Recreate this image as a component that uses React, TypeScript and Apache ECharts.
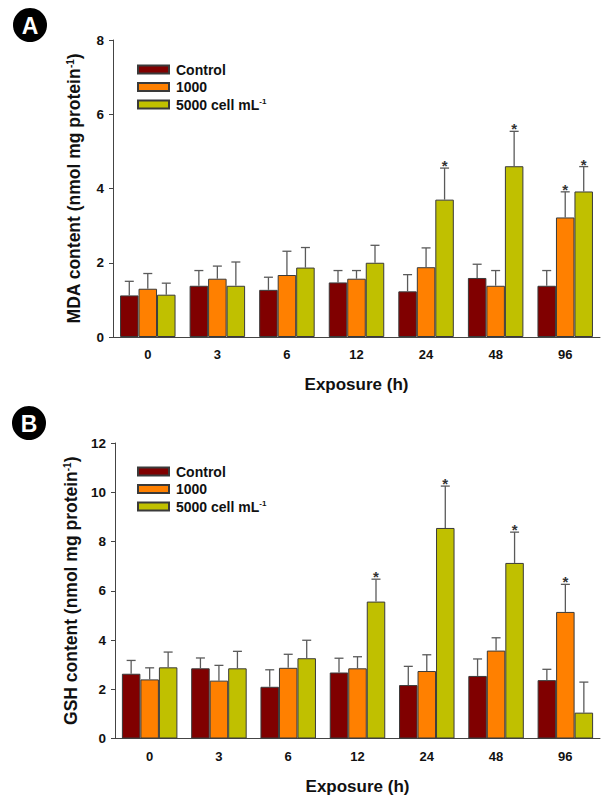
import React, { useEffect, useRef } from "react";
import * as echarts from "echarts";

const categories = ["0", "3", "6", "12", "24", "48", "96"];
const seriesNames = ["Control", "1000", "5000 cell mL-1"];
const colors = ["#800000", "#FF8000", "#C0C000"];

// Panel A: MDA content
const mdaControl = [1.12, 1.38, 1.27, 1.47, 1.23, 1.59, 1.38];
const mdaControlSd = [0.38, 0.41, 0.34, 0.32, 0.45, 0.37, 0.41];
const mda1000 = [1.3, 1.57, 1.67, 1.57, 1.88, 1.38, 3.22];
const mda1000Sd = [0.41, 0.34, 0.64, 0.22, 0.52, 0.41, 0.69];
const mda5000 = [1.14, 1.38, 1.87, 2.0, 3.7, 4.6, 3.92];
const mda5000Sd = [0.31, 0.64, 0.54, 0.47, 0.85, 0.94, 0.67];
const mdaStarsControl = [0, 0, 0, 0, 0, 0, 0];
const mdaStars1000 = [0, 0, 0, 0, 0, 0, 1];
const mdaStars5000 = [0, 0, 0, 0, 1, 1, 1];

// Panel B: GSH content
const gshControl = [2.63, 2.85, 2.1, 2.68, 2.17, 2.54, 2.37];
const gshControlSd = [0.54, 0.42, 0.69, 0.58, 0.76, 0.69, 0.44];
const gsh1000 = [2.4, 2.35, 2.87, 2.85, 2.74, 3.57, 5.14];
const gsh1000Sd = [0.47, 0.62, 0.55, 0.47, 0.66, 0.52, 1.12];
const gsh5000 = [2.89, 2.85, 3.26, 5.56, 8.55, 7.13, 1.05];
const gsh5000Sd = [0.62, 0.69, 0.73, 0.91, 1.7, 1.25, 1.24];
const gshStarsControl = [0, 0, 0, 0, 0, 0, 0];
const gshStars1000 = [0, 0, 0, 0, 0, 0, 1];
const gshStars5000 = [0, 0, 0, 1, 1, 1, 0];

const yTicksA = { min: 0, max: 8, interval: 2 };
const yTicksB = { min: 0, max: 12, interval: 2 };

const FONT = "'Liberation Sans', Arial, Helvetica, sans-serif";
const BAR_W = 18.5;

export default function App() {
  const ref = useRef<HTMLDivElement>(null);

  useEffect(() => {
    if (!ref.current) return;
    const chart = echarts.init(ref.current, undefined, { renderer: "svg" });

    const panels = [
      {
        means: [mdaControl, mda1000, mda5000],
        sds: [mdaControlSd, mda1000Sd, mda5000Sd],
        stars: [mdaStarsControl, mdaStars1000, mdaStars5000],
      },
      {
        means: [gshControl, gsh1000, gsh5000],
        sds: [gshControlSd, gsh1000Sd, gsh5000Sd],
        stars: [gshStarsControl, gshStars1000, gshStars5000],
      },
    ];

    const series: any[] = [];
    panels.forEach((p, gi) => {
      p.means.forEach((m, si) => {
        series.push({
          type: "bar",
          name: seriesNames[si],
          xAxisIndex: gi,
          yAxisIndex: gi,
          data: m,
          barWidth: BAR_W,
          barGap: "0%",
          itemStyle: { color: colors[si], borderColor: "#3a3a3a", borderWidth: 1 },
          z: 2,
        });
      });
    });
    panels.forEach((p, gi) => {
      p.means.forEach((m, si) => {
        const offset = (si - 1) * BAR_W;
        series.push({
          type: "custom",
          name: seriesNames[si],
          xAxisIndex: gi,
          yAxisIndex: gi,
          z: 5,
          encode: { x: 0, y: [1, 2] },
          data: m.map((v, i) => [i, v, v + p.sds[si][i], p.stars[si][i]]),
          renderItem: (params: any, api: any) => {
            const idx = api.value(0);
            const mean = api.value(1);
            const top = api.value(2);
            const star = api.value(3);
            const b = api.coord([idx, mean]);
            const t = api.coord([idx, top]);
            const x = b[0] + offset;
            const children: any[] = [
              {
                type: "line",
                shape: { x1: x, y1: b[1], x2: x, y2: t[1] },
                style: { stroke: "#5a5a5a", lineWidth: 1.3 },
              },
              {
                type: "line",
                shape: { x1: x - 4.5, y1: t[1], x2: x + 4.5, y2: t[1] },
                style: { stroke: "#5a5a5a", lineWidth: 1.3 },
              },
            ];
            if (star) {
              children.push({
                type: "text",
                x: x,
                y: t[1] - 10,
                style: {
                  text: "*",
                  align: "center",
                  verticalAlign: "top",
                  fontSize: 15,
                  fontWeight: "bold",
                  fontFamily: FONT,
                  fill: "#333",
                },
              });
            }
            return { type: "group", children };
          },
        });
      });
    });

    const legendBase = (top: number) => ({
      orient: "vertical",
      left: 132,
      top,
      itemWidth: 31,
      itemHeight: 8,
      itemGap: 2.5,
      icon: "rect",
      data: seriesNames,
      formatter: (n: string) => (n === "5000 cell mL-1" ? "5000 cell mL{sup|-1}" : n),
      textStyle: {
        fontFamily: FONT,
        fontWeight: "bold",
        fontSize: 14,
        color: "#111",
        lineHeight: 15,
        padding: [0, 0, 0, 2],
        rich: {
          sup: { fontFamily: FONT, fontWeight: "bold", fontSize: 8, verticalAlign: "top", lineHeight: 15, padding: [0, 0, 6, 0] },
        },
      },
    });

    const xAxisBase = (gi: number) => ({
      type: "category",
      gridIndex: gi,
      data: categories,
      boundaryGap: true,
      name: "Exposure (h)",
      nameLocation: "middle",
      nameGap: 39,
      nameTextStyle: { fontFamily: FONT, fontWeight: "bold", fontSize: 17, color: "#111" },
      axisLine: { lineStyle: { color: "#444", width: 1 } },
      axisTick: { alignWithLabel: true, length: 4, lineStyle: { color: "#444" } },
      axisLabel: { fontFamily: FONT, fontWeight: "bold", fontSize: 13, color: "#111", margin: 11 },
      splitLine: { show: false },
    });

    const yAxisBase = (gi: number, ticks: any, title: string) => ({
      type: "value",
      gridIndex: gi,
      min: ticks.min,
      max: ticks.max,
      interval: ticks.interval,
      name: title,
      nameLocation: "middle",
      nameGap: 30,
      nameTextStyle: {
        fontFamily: FONT,
        fontWeight: "bold",
        fontSize: 17.5,
        color: "#111",
        rich: {
          sup: { fontFamily: FONT, fontWeight: "bold", fontSize: 10, verticalAlign: "top", padding: [0, 0, 8, 0] },
        },
      },
      axisLine: { show: true, lineStyle: { color: "#444", width: 1 } },
      axisTick: { show: true, length: 4, lineStyle: { color: "#444" } },
      axisLabel: { fontFamily: FONT, fontWeight: "bold", fontSize: 13.5, color: "#111", margin: 9 },
      splitLine: { show: false },
    });

    const badge = (cx: number, cy: number, letter: string) => ({
      type: "group",
      children: [
        { type: "circle", shape: { cx, cy, r: 17 }, style: { fill: "#000" } },
        {
          type: "text",
          x: cx,
          y: cy + 1,
          style: {
            text: letter,
            align: "center",
            verticalAlign: "middle",
            fontFamily: FONT,
            fontWeight: "bold",
            fontSize: 23,
            fill: "#fff",
          },
        },
      ],
    });

    chart.setOption({
      animation: false,
      backgroundColor: "#fff",
      grid: [
        { left: 113, right: 1, top: 40, height: 297 },
        { left: 115, right: 1, top: 443, height: 295.5 },
      ],
      legend: [legendBase(57), legendBase(459)],
      xAxis: [xAxisBase(0), xAxisBase(1)],
      yAxis: [
        yAxisBase(0, yTicksA, "MDA content (nmol mg protein{sup|-1})"),
        yAxisBase(1, yTicksB, "GSH content (nmol mg protein{sup|-1})"),
      ],
      graphic: [badge(30, 25, "A"), badge(29, 423, "B")],
      series,
    });

    return () => chart.dispose();
  }, []);

  return (
    <div
      ref={ref}
      style={{ position: "fixed", left: 0, top: 0, width: 601, height: 798, background: "#fff" }}
    />
  );
}
